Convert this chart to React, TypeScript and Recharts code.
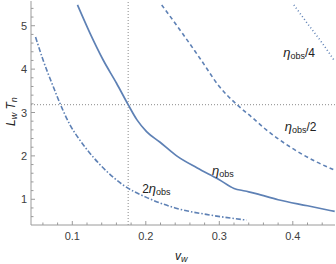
import React from 'react';
import { LineChart, Line, XAxis, YAxis, ReferenceLine, ReferenceDot } from 'recharts';

// tick values
const xMajor = [0.1, 0.2, 0.3, 0.4];
const xMinor = [0.06, 0.08, 0.12, 0.14, 0.16, 0.18, 0.22, 0.24, 0.26, 0.28, 0.32, 0.34, 0.36, 0.38, 0.42, 0.44];
const yMajor = [1, 2, 3, 4, 5];
const yMinor = [0.6, 0.8, 1.2, 1.4, 1.6, 1.8, 2.2, 2.4, 2.6, 2.8, 3.2, 3.4, 3.6, 3.8, 4.2, 4.4, 4.6, 4.8, 5.2, 5.4];

// eta_obs (solid)
const etaV = [0.107, 0.124, 0.142, 0.16, 0.176, 0.188, 0.201, 0.219, 0.242, 0.27, 0.3, 0.32, 0.335, 0.35, 0.38, 0.42, 0.457];
const etaL = [5.48, 4.83, 4.21, 3.68, 3.18, 2.83, 2.56, 2.32, 2.0, 1.72, 1.45, 1.25, 1.19, 1.13, 0.99, 0.85, 0.72];
// 2 eta_obs (dash-dot)
const eta2V = [0.05, 0.06, 0.074, 0.086, 0.097, 0.11, 0.128, 0.147, 0.169, 0.2, 0.24, 0.29, 0.337];
const eta2L = [4.74, 4.22, 3.6, 3.1, 2.71, 2.37, 1.98, 1.64, 1.33, 1.05, 0.8, 0.63, 0.52];
// eta_obs/2 (dashed)
const etaHalfV = [0.2216, 0.25, 0.274, 0.3, 0.324, 0.345, 0.364, 0.396, 0.43, 0.457];
const etaHalfL = [5.48, 4.82, 4.24, 3.6, 3.18, 2.88, 2.6, 2.21, 1.88, 1.67];
// eta_obs/4 (dotted)
const etaQuarterV = [0.4014, 0.42, 0.44, 0.456];
const etaQuarterL = [5.48, 5.05, 4.6, 4.21];

const refV = 0.176;
const refL = 3.18;

const toData = (v: number[], l: number[]) => v.map((x, i) => ({ v: x, L: l[i] }));

const BLUE = '#5E81B5';
const AXIS = '#9a9a9a';
const TXT = '#404040';
const FONT = '"Liberation Sans", Arial, sans-serif';

const isMajor = (arr: number[], v: number) => arr.some((m) => Math.abs(m - v) < 1e-9);

const BottomTick = (p: any) => {
  const v = p.payload.value;
  const major = isMajor(xMajor, v);
  return (
    <g>
      <line x1={p.x} x2={p.x} y1={p.y} y2={p.y - (major ? 4 : 2.5)} stroke={AXIS} />
      {major && (
        <text x={p.x} y={p.y + 15} textAnchor="middle" fontSize={11} fill={TXT} fontFamily={FONT}>
          {v.toFixed(1)}
        </text>
      )}
    </g>
  );
};
const TopTick = (p: any) => {
  const major = isMajor(xMajor, p.payload.value);
  return <line x1={p.x} x2={p.x} y1={p.y} y2={p.y + (major ? 4 : 2.5)} stroke={AXIS} />;
};
const LeftTick = (p: any) => {
  const v = p.payload.value;
  const major = isMajor(yMajor, v);
  return (
    <g>
      <line x1={p.x} x2={p.x + (major ? 4 : 2.5)} y1={p.y} y2={p.y} stroke={AXIS} />
      {major && (
        <text x={p.x - 4} y={p.y + 4} textAnchor="end" fontSize={11} fill={TXT} fontFamily={FONT}>
          {String(v)}
        </text>
      )}
    </g>
  );
};
const RightTick = (p: any) => {
  const major = isMajor(yMajor, p.payload.value);
  return <line x1={p.x} x2={p.x - (major ? 4 : 2.5)} y1={p.y} y2={p.y} stroke={AXIS} />;
};

const makeLabel = (suffix: string, prefix: string) => (p: any) => (
  <text x={p.cx} y={p.cy} fill="#222" fontFamily={FONT}>
    {prefix && <tspan fontSize={12}>{prefix}</tspan>}
    <tspan fontSize={13} fontStyle="italic">η</tspan>
    <tspan fontSize={9} dy={2}>obs</tspan>
    {suffix && (
      <tspan fontSize={12} dy={-2}>
        {suffix}
      </tspan>
    )}
  </text>
);

const xTicks = [...xMinor, ...xMajor].sort((a, b) => a - b);
const yTicks = [...yMinor, ...yMajor].sort((a, b) => a - b);

export default function App() {
  return (
    <div style={{ position: 'absolute', left: 0, top: 0, width: 336, height: 264 }}>
      <LineChart width={336} height={264} margin={{ top: 1, right: 1, bottom: 0, left: 0 }}>
        <XAxis
          xAxisId="b"
          dataKey="v"
          type="number"
          domain={[0.0438, 0.4574]}
          allowDataOverflow
          ticks={xTicks}
          interval={0}
          tickSize={0}
          tickMargin={0}
          tick={<BottomTick />}
          tickLine={false}
          axisLine={{ stroke: AXIS }}
          height={39}
        />
        <XAxis
          xAxisId="t"
          orientation="top"
          dataKey="v"
          type="number"
          domain={[0.0438, 0.4574]}
          allowDataOverflow
          ticks={xTicks}
          interval={0}
          tickSize={0}
          tickMargin={0}
          tick={<TopTick />}
          tickLine={false}
          axisLine={{ stroke: AXIS }}
          height={0}
        />
        <YAxis
          yAxisId="l"
          type="number"
          domain={[0.407, 5.57]}
          allowDataOverflow
          ticks={yTicks}
          interval={0}
          tickSize={0}
          tickMargin={0}
          tick={<LeftTick />}
          tickLine={false}
          axisLine={{ stroke: AXIS }}
          width={31}
        />
        <YAxis
          yAxisId="r"
          orientation="right"
          type="number"
          domain={[0.407, 5.57]}
          allowDataOverflow
          ticks={yTicks}
          interval={0}
          tickSize={0}
          tickMargin={0}
          tick={<RightTick />}
          tickLine={false}
          axisLine={{ stroke: AXIS }}
          width={0}
        />
        <ReferenceLine xAxisId="b" yAxisId="l" x={refV} stroke="#8a8a8a" strokeDasharray="1 2" />
        <ReferenceLine xAxisId="b" yAxisId="l" y={refL} stroke="#8a8a8a" strokeDasharray="1 2" />
        <Line xAxisId="b" yAxisId="l" data={toData(etaV, etaL)} dataKey="L" type="monotone" stroke={BLUE} strokeWidth={1.7} dot={false} isAnimationActive={false} />
        <Line xAxisId="b" yAxisId="l" data={toData(eta2V, eta2L)} dataKey="L" type="monotone" stroke={BLUE} strokeWidth={1.6} strokeDasharray="5 2 1.5 2" dot={false} isAnimationActive={false} />
        <Line xAxisId="b" yAxisId="l" data={toData(etaHalfV, etaHalfL)} dataKey="L" type="monotone" stroke={BLUE} strokeWidth={1.6} strokeDasharray="4 3" dot={false} isAnimationActive={false} />
        <Line xAxisId="b" yAxisId="l" data={toData(etaQuarterV, etaQuarterL)} dataKey="L" type="monotone" stroke={BLUE} strokeWidth={1.6} strokeDasharray="1 2.5" dot={false} isAnimationActive={false} />
        <ReferenceDot xAxisId="b" yAxisId="l" x={0.29} y={1.56} r={0} shape={makeLabel('', '')} />
        <ReferenceDot xAxisId="b" yAxisId="l" x={0.195} y={1.14} r={0} shape={makeLabel('', '2')} />
        <ReferenceDot xAxisId="b" yAxisId="l" x={0.389} y={2.58} r={0} shape={makeLabel('/2', '')} />
        <ReferenceDot xAxisId="b" yAxisId="l" x={0.387} y={4.29} r={0} shape={makeLabel('/4', '')} />
      </LineChart>
      <svg width={336} height={264} style={{ position: 'absolute', left: 0, top: 0, pointerEvents: 'none' }}>
        <text x={175} y={260} fill="#222" fontFamily={FONT}>
          <tspan fontSize={12} fontStyle="italic">v</tspan>
          <tspan fontSize={9} fontStyle="italic" dy={2}>w</tspan>
        </text>
        <text transform="translate(15,126) rotate(-90)" fill="#222" fontFamily={FONT}>
          <tspan fontSize={12} fontStyle="italic">L</tspan>
          <tspan fontSize={9} fontStyle="italic" dy={2}>w</tspan>
          <tspan fontSize={12} fontStyle="italic" dy={-2}> T</tspan>
          <tspan fontSize={9} fontStyle="italic" dy={2}>n</tspan>
        </text>
      </svg>
    </div>
  );
}
